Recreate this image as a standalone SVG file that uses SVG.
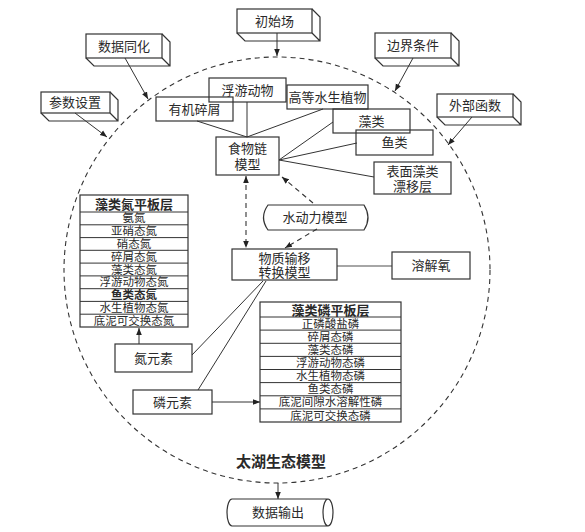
<svg xmlns="http://www.w3.org/2000/svg" width="585" height="532" viewBox="0 0 585 532">
<style>
text{font-family:"Liberation Serif","Noto Sans CJK SC",serif;font-size:13px;fill:#2a2a2a;text-anchor:middle}
text,tspan{dominant-baseline:central}
.b{fill:none;stroke:#333;stroke-width:1.2}
.l{fill:none;stroke:#333;stroke-width:1}
.d{fill:none;stroke:#333;stroke-width:1.1;stroke-dasharray:5 4}
.h{font-weight:bold}
.t{font-size:11.5px}
</style>
<defs>
<marker id="a" viewBox="0 0 10 10" refX="10" refY="5" markerWidth="7" markerHeight="7" orient="auto-start-reverse" markerUnits="userSpaceOnUse"><path d="M0,1 L10,5 L0,9 Z" fill="#222"/></marker>
</defs>
<circle cx="277" cy="270" r="213" class="d" stroke-dasharray="6 4"/>
<text x="281" y="462" class="h" style="font-size:15px">太湖生态模型</text>
<g id="connectors">
<line x1="125" y1="58" x2="148" y2="99" class="l" marker-end="url(#a)"/>
<line x1="75" y1="113" x2="107" y2="137" class="l" marker-end="url(#a)"/>
<line x1="277" y1="33" x2="277" y2="56" class="l" marker-end="url(#a)"/>
<line x1="413" y1="58" x2="395" y2="91" class="l" marker-end="url(#a)"/>
<line x1="472" y1="117" x2="448" y2="145" class="l" marker-end="url(#a)"/>
<line x1="278" y1="483" x2="278" y2="499" class="l" marker-end="url(#a)"/>
<line x1="197" y1="121" x2="247" y2="137" class="l"/>
<line x1="247" y1="102" x2="247" y2="137" class="l"/>
<line x1="323" y1="109" x2="247" y2="137" class="l"/>
<line x1="279" y1="160" x2="333" y2="122" class="l"/>
<line x1="279" y1="160" x2="357" y2="143" class="l"/>
<line x1="279" y1="160" x2="374" y2="177" class="l"/>
<line x1="246" y1="176" x2="246" y2="248" class="d" marker-start="url(#a)" marker-end="url(#a)"/>
<line x1="313" y1="203" x2="282" y2="177" class="d" marker-end="url(#a)"/>
<line x1="317" y1="229" x2="285" y2="248" class="d" marker-end="url(#a)"/>
<line x1="337" y1="266" x2="392" y2="266" stroke="#888" stroke-width="1.6"/>
<line x1="192" y1="355" x2="263" y2="281" class="l"/>
<line x1="198" y1="390" x2="266" y2="281" class="l"/>
<line x1="139" y1="344" x2="139" y2="328" class="l" marker-end="url(#a)"/>
<line x1="212" y1="402" x2="260" y2="402" class="l" marker-end="url(#a)"/>
</g>
<g id="n-shujutonghua"><rect x="86" y="34" width="76" height="24" class="b"/><path d="M86,58 L94,66 L170,66 L170,42 L162,34 M162,58 L170,66" class="b"/><text x="124" y="46">数据同化</text></g>
<g id="n-canshu"><rect x="41" y="92" width="69" height="21" class="b"/><path d="M41,113 L49,121 L118,121 L118,100 L110,92 M110,113 L118,121" class="b"/><text x="75" y="102.5">参数设置</text></g>
<g id="n-chushichang"><rect x="237" y="9" width="75" height="24" class="b"/><path d="M237,33 L245,41 L320,41 L320,17 L312,9 M312,33 L320,41" class="b"/><text x="274.5" y="21">初始场</text></g>
<g id="n-bianjie"><rect x="375" y="33" width="76" height="25" class="b"/><path d="M375,58 L383,66 L459,66 L459,41 L451,33 M451,58 L459,66" class="b"/><text x="413" y="45.5">边界条件</text></g>
<g id="n-waibu"><rect x="437" y="94" width="76" height="23" class="b"/><path d="M437,117 L445,125 L521,125 L521,102 L513,94 M513,117 L521,125" class="b"/><text x="475" y="105.5">外部函数</text></g>
<g id="n-fuyou"><rect x="209" y="78" width="77" height="24" class="b"/><text x="247.5" y="90">浮游动物</text></g>
<g id="n-youji"><rect x="156" y="97" width="77" height="24" class="b"/><text x="194.5" y="109">有机碎屑</text></g>
<g id="n-gaodeng"><rect x="287" y="85" width="81" height="24" class="b"/><text x="327.5" y="97">高等水生植物</text></g>
<g id="n-zaolei"><rect x="333" y="109" width="77" height="24" class="b"/><text x="371.5" y="121">藻类</text></g>
<g id="n-yulei"><rect x="356" y="130" width="77" height="25" class="b"/><text x="394.5" y="142.5">鱼类</text></g>
<g id="n-biaomian"><rect x="374" y="162" width="77" height="32" class="b"/><text x="412.5" y="171"><tspan x="412.5" y="171">表面藻类</tspan><tspan x="412.5" y="186">漂移层</tspan></text></g>
<g id="n-shiwulian"><rect x="216" y="137" width="63" height="38" class="b"/><text x="247.5" y="148"><tspan x="247.5" y="148">食物链</tspan><tspan x="247.5" y="164">模型</tspan></text></g>
<g id="n-shuidongli"><path d="M268,205 H364 Q372,217.5 364,230 H268 Q259,217.5 268,205 Z" class="b"/><text x="315" y="217.5">水动力模型</text></g>
<g id="n-wuzhi"><rect x="232" y="249" width="105" height="31" class="b"/><text x="284.5" y="257.5"><tspan x="284.5" y="257.5">物质输移</tspan><tspan x="284.5" y="272">转换模型</tspan></text></g>
<g id="n-rongjie"><rect x="392" y="252" width="78" height="27" class="b"/><text x="431" y="265.5">溶解氧</text></g>
<g id="n-dan-table">
<rect x="80" y="195" width="108" height="132" class="b"/>
<path d="M80,212 H188 M80,224.8 H188 M80,237.6 H188 M80,250.3 H188 M80,263.1 H188 M80,275.9 H188 M80,288.7 H188 M80,301.4 H188 M80,314.2 H188" class="l"/>
<text x="134" y="203.5"><tspan x="134" y="203.5" class="h">藻类氮平板层</tspan><tspan x="134" y="218.4" class="t">氨氮</tspan><tspan x="134" y="231.2" class="t">亚硝态氮</tspan><tspan x="134" y="244" class="t">硝态氮</tspan><tspan x="134" y="256.7" class="t">碎屑态氮</tspan><tspan x="134" y="269.5" class="t">藻类态氮</tspan><tspan x="134" y="282.3" class="t">浮游动物态氮</tspan><tspan x="134" y="295" class="t h">鱼类态氮</tspan><tspan x="134" y="307.8" class="t">水生植物态氮</tspan><tspan x="134" y="320.6" class="t">底泥可交换态氮</tspan></text>
</g>
<g id="n-dan"><rect x="115" y="344" width="77" height="28" class="b"/><text x="153.5" y="358">氮元素</text></g>
<g id="n-lin"><rect x="133" y="390" width="79" height="24" class="b"/><text x="172.5" y="402">磷元素</text></g>
<g id="n-lin-table">
<rect x="260" y="302" width="141" height="120" class="b"/>
<path d="M260,317 H401 M260,330.1 H401 M260,343.3 H401 M260,356.4 H401 M260,369.5 H401 M260,382.6 H401 M260,395.8 H401 M260,408.9 H401" class="l"/>
<text x="330.5" y="309.5"><tspan x="330.5" y="309.5" class="h">藻类磷平板层</tspan><tspan x="330.5" y="323.6" class="t">正磷酸盐磷</tspan><tspan x="330.5" y="336.7" class="t">碎屑态磷</tspan><tspan x="330.5" y="349.8" class="t">藻类态磷</tspan><tspan x="330.5" y="363" class="t">浮游动物态磷</tspan><tspan x="330.5" y="376.1" class="t">水生植物态磷</tspan><tspan x="330.5" y="389.2" class="t">鱼类态磷</tspan><tspan x="330.5" y="402.3" class="t">底泥间隙水溶解性磷</tspan><tspan x="330.5" y="415.5" class="t">底泥可交换态磷</tspan></text>
</g>
<g id="n-shuchu"><path d="M232,499 H328 A5 13.5 0 0 1 328,526 H232 A5 13.5 0 0 1 232,499 Z M328,499 A5 13.5 0 0 0 328,526" class="b"/><text x="278" y="512.5">数据输出</text></g>
</svg>
